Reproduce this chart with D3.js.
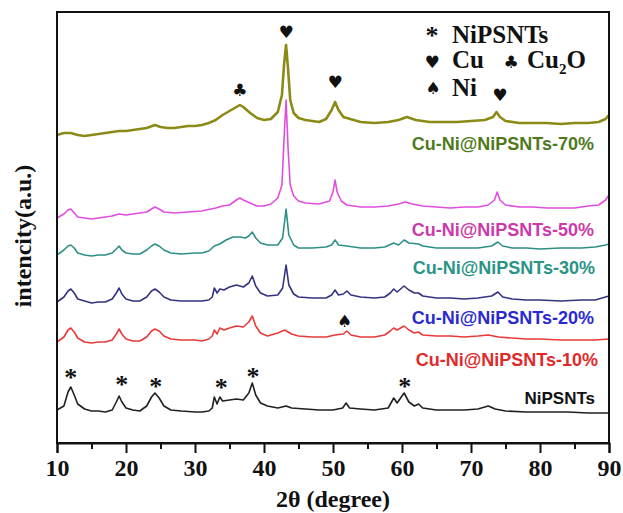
<!DOCTYPE html>
<html><head><meta charset="utf-8">
<script src="https://cdn.jsdelivr.net/npm/d3@7"></script>
<style>body{margin:0;background:#fff}svg{display:block}</style>
</head><body><svg id="c" width="623" height="513"></svg>
<script>
// ---- data: 2θ (degree) vs stacked intensity (a.u.) ----
const seriesNames = ["NiPSNTs","Cu-Ni@NiPSNTs-10%","Cu-Ni@NiPSNTs-20%","Cu-Ni@NiPSNTs-30%","Cu-Ni@NiPSNTs-50%","Cu-Ni@NiPSNTs-70%"];
const seriesColors = ["#202020","#e83a3a","#33337f","#2e8f85","#e04ee0","#8c8a16"];
const labelColors = ["#111111","#e02a2a","#2a2ad0","#2a9485","#cc3aaa","#4f7a1c"];

const niPSNTs = [[10,33],[11,37],[11.6,51],[12,56],[12.5,48],[13,39],[14,34],[15,32],[16,32],[17,31],[18,33],[18.6,41],[19,47],[19.4,41],[20,35],[21,33],[22,32],[23,37],[23.7,46],[24.2,50],[24.8,45],[25.5,37],[26.5,33],[28,32],[30,31],[31,31],[32,32],[32.5,35],[32.8,46],[33.2,39],[33.6,46],[34,42],[35,43],[36,44],[37,43],[37.8,50],[38.3,60],[38.8,48],[39.5,40],[40.5,37],[42,35],[43.2,37],[44,35],[46,34],[48,33],[50,33],[51.4,35],[51.9,40],[52.4,35],[54,34],[56,33],[58,35],[58.8,45],[59.3,40],[60.3,50],[61,41],[61.8,37],[62.4,39],[63,35],[65,33],[67,33],[69,33],[71,34],[72.5,37],[73.5,34],[75,32],[78,31],[81,31],[84,31],[87,30],[90,30]];
const cuNi10 = [[10,101],[11,106],[11.6,113],[12,115],[12.5,111],[13,105],[14,101],[15,100],[16,101],[17,101],[18,103],[18.6,109],[19,114],[19.4,109],[20,104],[21,102],[22,102],[23,106],[23.7,112],[24.2,114],[24.8,112],[25.5,107],[26.5,104],[28,103],[30,103],[31,102],[32,104],[32.5,107],[32.8,113],[33.2,109],[33.6,115],[34.2,113],[35,115],[36,117],[37,116],[37.8,121],[38.3,127],[38.8,117],[39.5,110],[40.5,107],[42,110],[43,113],[44,109],[45,107],[47,106],[49,106],[50.3,108],[51.5,109],[52,112],[52.6,108],[54,106],[56,106],[57.5,108],[58.3,112],[58.8,115],[59.3,113],[60.3,117],[61,113],[61.8,110],[62.4,111],[63,108],[65,107],[67,107],[69,106],[71,107],[72.5,108],[74,106],[76,105],[78,104],[80,104],[83,103],[86,103],[88,103],[90,104]];
const cuNi20 = [[10,141],[11,146],[11.6,152],[12,154],[12.5,150],[13,144],[14,142],[15,140],[16,141],[17,141],[18,144],[18.6,150],[19,155],[19.4,149],[20,144],[21,142],[22,142],[23,146],[23.7,152],[24.2,154],[24.8,151],[25.5,146],[26.5,143],[28,142],[30,142],[31,142],[32,143],[32.5,146],[32.8,155],[33.2,150],[33.6,154],[34.2,153],[35,156],[36,158],[37,156],[37.8,160],[38.3,167],[38.8,157],[39.5,150],[40.5,147],[42,148],[42.7,155],[43.2,178],[43.6,158],[44.3,149],[45,146],[47,145],[49,145],[49.8,148],[50.3,153],[50.8,148],[51.5,149],[52,152],[52.6,148],[54,146],[56,145],[57.5,146],[58.3,150],[58.8,154],[59.3,151],[60.3,157],[61,153],[61.8,150],[62.4,150],[63,147],[65,145],[67,145],[69,144],[71,145],[73,147],[73.9,151],[74.6,146],[76,144],[78,143],[80,143],[83,142],[86,143],[88,143],[89.5,146],[90,147]];
const cuNi30 = [[10,188],[11,193],[11.6,197],[12,198],[12.5,195],[13,190],[14,188],[15,187],[16,188],[17,188],[18,190],[18.6,194],[19,197],[19.4,193],[20,190],[21,189],[22,189],[23,193],[23.7,197],[24.2,199],[24.8,197],[25.5,193],[26.5,190],[28,189],[30,190],[31,190],[32,192],[32.8,197],[33.6,199],[34.5,203],[35.5,206],[36.5,206],[37.3,205],[37.8,207],[38.3,211],[38.8,205],[39.5,200],[40.5,198],[42,198],[42.7,205],[43.2,234],[43.6,208],[44.3,198],[45,195],[47,195],[49,196],[49.8,198],[50.3,203],[50.8,198],[52,197],[54,195],[56,195],[57.5,196],[58.8,200],[59.5,198],[60.3,203],[61,200],[62.4,199],[63,197],[65,195],[67,195],[69,195],[71,195],[73,197],[73.9,201],[74.6,197],[76,195],[78,195],[80,194],[83,195],[86,195],[88,196],[89.5,198],[90,199]];
const cuNi50 = [[10,225],[11,229],[11.6,233],[12,234],[12.5,230],[13,226],[14,225],[15,224],[16,225],[17,226],[18,227],[19,229],[20,228],[21,229],[22,230],[23,231],[23.7,234],[24.2,236],[24.8,234],[25.5,231],[27,230],[29,231],[31,232],[33,235],[34,237],[35,238],[36,243],[36.5,245],[37,243],[38,240],[39,237],[40,237],[41,239],[42,245],[42.6,258],[42.9,303],[43.2,343],[43.5,293],[43.8,258],[44.3,247],[45,242],[46,240],[48,239],[49.5,242],[50,251],[50.3,263],[50.6,251],[51.2,242],[52,238],[54,236],[56,236],[58,237],[59.5,239],[60.5,241],[61.5,239],[63,237],[65,236],[67,235],[69,236],[71,236],[72.5,238],[73.4,243],[73.8,251],[74.2,243],[75,238],[77,236],[79,236],[81,235],[83,235],[85,235],[87,237],[88.5,238],[89.5,243],[90,248]];
const cuNi70 = [[10,308],[11,310],[12,310],[13,308],[14,307],[15,308],[16,309],[17,310],[18,311],[19,312],[20,312],[21,313],[22,314],[23,315],[24.2,318],[25,316],[26,315],[27,315],[28,316],[29,317],[30,317],[31,318],[32,320],[33,323],[34,328],[35,332],[36,336],[36.5,338],[37,336],[38,330],[39,325],[40,323],[41,324],[42,331],[42.6,348],[42.9,378],[43.2,398],[43.5,373],[43.8,343],[44.3,330],[45,325],[46,323],[47,322],[48,321],[49,324],[49.8,333],[50.3,341],[50.8,333],[51.5,326],[52,325],[54,321],[56,320],[58,321],[59.5,323],[60.7,326],[62,323],[64,321],[66,321],[68,321],[70,322],[72,323],[73.2,326],[73.7,331],[74.2,326],[75,322],[77,320],[79,320],[81,320],[83,319],[85,320],[87,320],[88.5,321],[89.5,324],[90,328]];
const seriesData = [niPSNTs, cuNi10, cuNi20, cuNi30, cuNi50, cuNi70];

const xTicks = [10,20,30,40,50,60,70,80,90];
const xMinorTicks = [15,25,35,45,55,65,75,85];

// peak markers: [2θ, intensity, symbol]
const peakMarks = [[12,69,"*"],[19.4,62,"*"],[24.3,60,"*"],[33.8,59,"*"],[38.4,70,"*"],[60.4,60,"*"],
  [43.2,411,"♥"],[50.3,361,"♥"],[74.2,348,"♥"],[36.5,353,"♣"],[51.7,122,"♠"]];

// ---- layout ----
const W=623,H=513, L=57, R=609, T=12, B=443;
const svg = d3.select("#c");
const x = d3.scaleLinear().domain([10,90]).range([L,R]);
const y = d3.scaleLinear().domain([0,431]).range([B,T]);

// traces
const line = d3.line().x(d=>x(d[0])).y(d=>y(d[1]));
seriesData.forEach((s,i)=>{
  svg.append("path").datum(s).attr("d",line).attr("fill","none")
    .attr("stroke",seriesColors[i]).attr("stroke-width", i===5?2.6:1.6).attr("stroke-linejoin","round");
});

// frame
svg.append("rect").attr("x",L).attr("y",T).attr("width",R-L).attr("height",B-T)
  .attr("fill","none").attr("stroke","#111").attr("stroke-width",2);

// x axis
const ax = svg.append("g").attr("transform",`translate(0,${B})`)
  .call(d3.axisBottom(x).tickValues(xTicks).tickSize(10).tickPadding(6).tickFormat(d3.format("d")));
ax.select(".domain").attr("stroke","#111").attr("stroke-width",2);
ax.selectAll(".tick line").attr("stroke","#111").attr("stroke-width",2);
ax.selectAll(".tick text").attr("font-family","'Liberation Serif','Times New Roman',serif")
  .attr("font-weight","bold").attr("font-size",24).attr("fill","#111");
const axm = svg.append("g").attr("transform",`translate(0,${B})`)
  .call(d3.axisBottom(x).tickValues(xMinorTicks).tickSize(6).tickFormat(""));
axm.select(".domain").remove();
axm.selectAll(".tick line").attr("stroke","#111").attr("stroke-width",2);

// axis titles
svg.append("text").attr("x",(L+R)/2).attr("y",507).attr("text-anchor","middle")
  .attr("font-family","'Liberation Serif','Times New Roman',serif").attr("font-weight","bold")
  .attr("font-size",24).attr("fill","#111").text("2θ (degree)");
svg.append("text").attr("transform","translate(31,236) rotate(-90)").attr("text-anchor","middle")
  .attr("font-family","'Liberation Serif','Times New Roman',serif").attr("font-weight","bold")
  .attr("font-size",24).attr("fill","#111").text("intencity(a.u.)");

// series labels
const labelPos = [[595,404],[598,366],[594,324],[595,274],[594,236],[594,150]];
seriesNames.forEach((n,i)=>{
  svg.append("text").attr("x",labelPos[i][0]).attr("y",labelPos[i][1]).attr("text-anchor","end")
    .attr("font-family","'Liberation Sans',Arial,sans-serif").attr("font-weight","bold")
    .attr("font-size",i===0?17:18).attr("fill",labelColors[i]).text(n);
});

// peak markers
peakMarks.forEach(m=>{
  const t = svg.append("text").attr("x",x(m[0])).attr("text-anchor","middle").attr("fill","#111").text(m[2]);
  if(m[2]==="*"){
    t.attr("y",y(m[1])+12).attr("font-family","'Liberation Serif',serif").attr("font-weight","bold").attr("font-size",26);
  } else {
    t.attr("y",y(m[1])).attr("dominant-baseline","central").attr("font-family","'DejaVu Sans',sans-serif").attr("font-size",17);
  }
});

// legend
const lg = svg.append("g").attr("font-family","'Liberation Serif','Times New Roman',serif").attr("font-weight","bold").attr("fill","#111");
lg.append("text").attr("x",432).attr("y",44).attr("font-size",26).attr("text-anchor","middle").text("*");
lg.append("text").attr("x",452).attr("y",43).attr("font-size",25).text("NiPSNTs");
lg.append("text").attr("x",432).attr("y",62).attr("dominant-baseline","central").attr("font-family","'DejaVu Sans',sans-serif").attr("font-weight","normal").attr("font-size",17).attr("text-anchor","middle").text("♥");
lg.append("text").attr("x",452).attr("y",68).attr("font-size",25).text("Cu");
lg.append("text").attr("x",511).attr("y",62).attr("dominant-baseline","central").attr("font-family","'DejaVu Sans',sans-serif").attr("font-weight","normal").attr("font-size",17).attr("text-anchor","middle").text("♣");
const cu2o = lg.append("text").attr("x",527).attr("y",68).attr("font-size",25);
cu2o.append("tspan").text("Cu");
cu2o.append("tspan").attr("font-size",15).attr("dy",6).text("2");
cu2o.append("tspan").attr("dy",-6).text("O");
lg.append("text").attr("x",433).attr("y",88).attr("dominant-baseline","central").attr("font-family","'DejaVu Sans',sans-serif").attr("font-weight","normal").attr("font-size",17).attr("text-anchor","middle").text("♠");
lg.append("text").attr("x",452).attr("y",96).attr("font-size",25).text("Ni");
</script></body></html>
